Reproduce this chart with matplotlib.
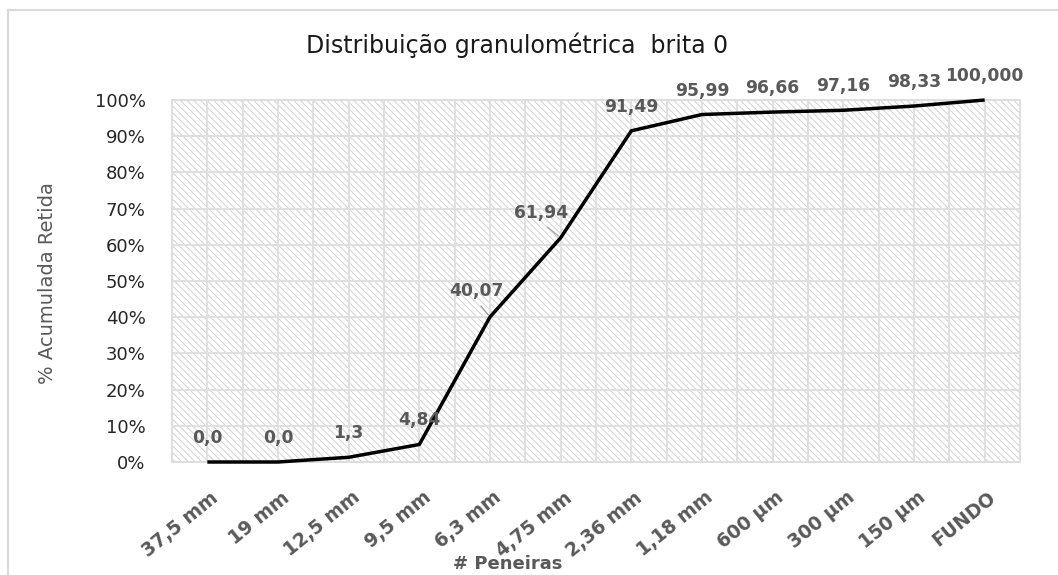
import matplotlib
matplotlib.use("Agg")
import matplotlib.pyplot as plt
from matplotlib.patches import Rectangle
from matplotlib.lines import Line2D
from matplotlib.transforms import ScaledTranslation

categories = ["37,5 mm", "19 mm", "12,5 mm", "9,5 mm", "6,3 mm", "4,75 mm",
              "2,36 mm", "1,18 mm", "600 µm", "300 µm", "150 µm", "FUNDO"]
values = [0.0, 0.0, 1.3, 4.84, 40.07, 61.94, 91.49, 95.99, 96.66, 97.16, 98.33, 100.0]
value_labels = ["0,0", "0,0", "1,3", "4,84", "40,07", "61,94", "91,49",
                "95,99", "96,66", "97,16", "98,33", "100,000"]
y_ticks = [0, 10, 20, 30, 40, 50, 60, 70, 80, 90, 100]
y_tick_labels = [f"{t}%" for t in y_ticks]

title = "Distribuição granulométrica  brita 0"
xlabel = "# Peneiras"
ylabel = "% Acumulada Retida"

plt.rcParams['hatch.linewidth'] = 0.7

W, H = 1058, 575
fig = plt.figure(figsize=(W / 100, H / 100), dpi=100)
fig.patch.set_facecolor("white")

ax = fig.add_axes([172 / W, 1 - 462 / H, (1020 - 172) / W, (462 - 100) / H])
ax.set_facecolor("white")

# hatched plot area
bg = Rectangle((0, 0), 1, 1, transform=ax.transAxes, facecolor="white",
               edgecolor="#d2d2d2", hatch="\\\\\\\\\\", linewidth=0, zorder=0)
ax.add_patch(bg)

x = list(range(len(categories)))
ax.set_xlim(-0.5, len(categories) - 0.5)
ax.set_ylim(0, 100)

# gridlines
ax.set_yticks(y_ticks)
ax.set_yticklabels(y_tick_labels)
ax.set_xticks(x)
ax.set_xticklabels(categories)
ax.set_xticks([i + 0.5 for i in range(-1, len(categories))], minor=True)
ax.grid(True, which="both", color="#e0e0e0", linewidth=1.4, zorder=1)
ax.set_axisbelow(True)
ax.tick_params(which="both", length=0)
for s in ax.spines.values():
    s.set_color("#dedede")
    s.set_linewidth(1.4)

ax.plot(x, values, color="black", linewidth=2.5, solid_joinstyle="round",
        solid_capstyle="butt", zorder=3, clip_on=False)

# tick label styles
ax.tick_params(axis="y", pad=19, labelsize=13, labelcolor="#262626")
ax.tick_params(axis="x", pad=24)
off = ScaledTranslation(9 / 100, 0, fig.dpi_scale_trans)
for lab in ax.get_xticklabels():
    lab.set_rotation(39)
    lab.set_rotation_mode("anchor")
    lab.set_ha("right")
    lab.set_va("center")
    lab.set_fontsize(13.5)
    lab.set_fontweight("bold")
    lab.set_color("#595959")
    lab.set_transform(lab.get_transform() + off)

# data labels
special = {4: (-14, 26), 5: (-20, 25)}
for i, (v, t) in enumerate(zip(values, value_labels)):
    if i in special:
        dx, dy = special[i]
        ax.annotate(t, (i, v), xytext=(dx, dy), textcoords="offset pixels",
                    ha="center", va="center", fontsize=12.3, fontweight="bold",
                    color="#595959", zorder=4, annotation_clip=False,
                    arrowprops=dict(arrowstyle="-", color="#a6a6a6", lw=1,
                                    shrinkA=3, shrinkB=2, relpos=(0.5, 0)))
    else:
        ax.annotate(t, (i, v), xytext=(0, 24), textcoords="offset pixels",
                    ha="center", va="center", fontsize=12.3, fontweight="bold",
                    color="#595959", zorder=4, annotation_clip=False)

fig.text(517 / W, 1 - 45 / H, title, ha="center", va="center", fontsize=17,
         color="#1a1a1a")
fig.text(508 / W, 1 - 564 / H, xlabel, ha="center", va="center", fontsize=13,
         fontweight="bold", color="#595959")
fig.text(48 / W, 1 - 283 / H, ylabel, ha="center", va="center", fontsize=14,
         rotation=90, color="#595959")

# chart area border (top and left visible)
fig.add_artist(Line2D([8 / W, 1], [1 - 10 / H, 1 - 10 / H], color="#d9d9d9",
                      lw=1.5, transform=fig.transFigure))
fig.add_artist(Line2D([8 / W, 8 / W], [0, 1 - 10 / H], color="#d9d9d9",
                      lw=1.5, transform=fig.transFigure))

fig.savefig("out.png", dpi=100)
